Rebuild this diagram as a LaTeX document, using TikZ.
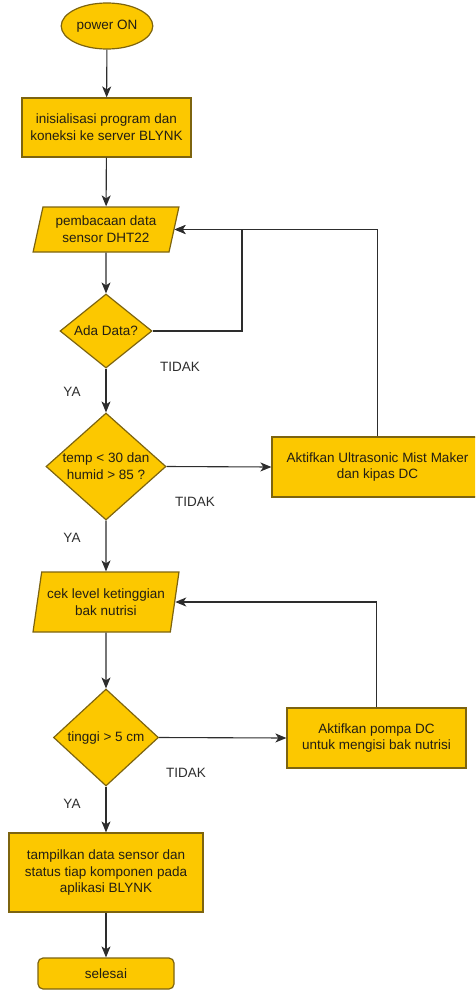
\documentclass[tikz,border=0pt]{standalone}
\usepackage{fontspec}
\setmainfont{Liberation Sans}
\usetikzlibrary{shapes.geometric,arrows.meta}
\definecolor{boxfill}{RGB}{252,200,0}
\definecolor{boxline}{RGB}{125,100,15}
\definecolor{conline}{RGB}{45,45,45}
\definecolor{txt}{RGB}{35,30,20}
\tikzset{
  every node/.style={font=\fontsize{13.5}{16.7}\selectfont, text=txt},
  shp/.style={draw=boxline, fill=boxfill, line width=1.2pt, inner sep=2pt, align=center},
  procbox/.style={shp, rectangle},
  termbox/.style={shp, rectangle, rounded corners=5pt},
  startell/.style={shp, ellipse},
  iobox/.style={shp, trapezium, trapezium left angle=75, trapezium right angle=105, trapezium stretches=true},
  decbox/.style={shp, diamond, inner sep=0pt},
  inlbl/.style={align=center, inner sep=0pt},
  edgelbl/.style={text=conline, inner sep=0pt},
  arr/.style={draw=conline, line width=1.1pt, -{Stealth[length=11pt,width=9pt,inset=3pt]}}
}
\begin{document}
\begin{tikzpicture}[x=1pt,y=-1pt]
\useasboundingbox (0,0) rectangle (475,990);
\clip (0,0) rectangle (475,990);
\node[startell, minimum width=90pt, minimum height=46pt] (pwr) at (107,26) {power ON};
\node[procbox, minimum width=169pt, minimum height=59pt] (init) at (106.5,127.5) {inisialisasi program dan\\koneksi ke server BLYNK};
\node[iobox, minimum width=146pt, minimum height=45pt] (par1) at (106,229.5) {pembacaan data\\sensor DHT22};
\node[decbox, minimum width=92pt, minimum height=74pt, label={[inlbl]center:Ada Data?}] (d1) at (106,331) {};
\node[decbox, minimum width=120pt, minimum height=107pt, label={[inlbl]center:temp < 30 dan\\humid > 85 ?}] (d2) at (106,466.5) {};
\node[procbox, minimum width=211pt, minimum height=60pt] (act1) at (377.5,467) {Aktifkan Ultrasonic Mist Maker\\dan kipas DC};
\node[iobox, minimum width=146pt, minimum height=60pt] (par2) at (106,602) {cek level ketinggian\\bak nutrisi};
\node[decbox, minimum width=105pt, minimum height=97pt, label={[inlbl]center:tinggi > 5 cm}] (d3) at (106,737.5) {};
\node[procbox, minimum width=179pt, minimum height=60pt] (act2) at (376.5,738) {Aktifkan pompa DC\\untuk mengisi bak nutrisi};
\node[procbox, minimum width=194pt, minimum height=79pt] (tamp) at (106,872.5) {tampilkan data sensor dan\\status tiap komponen pada\\aplikasi BLYNK};
\node[termbox, minimum width=136pt, minimum height=31pt] (sel) at (106,973.5) {selesai};

\coordinate (j1) at (242,331);
\draw[arr] (pwr) -- (init);
\draw[arr] (init) -- (par1);
\draw[arr] (par1) -- (d1);
\draw[arr] (d1.east) -- (j1) |- (par1.east);
\draw[arr] (act1.north) |- (par1.east);
\draw[arr] (d1.south) -- (d2.north);
\draw[arr] (d2.east) -- (act1.west);
\draw[arr] (d2.south) -- (par2.north);
\draw[arr] (par2.south) -- (d3.north);
\draw[arr] (d3.east) -- (act2.west);
\draw[arr] (act2.north) |- (par2.east);
\draw[arr] (d3.south) -- (tamp.north);
\draw[arr] (tamp.south) -- (sel.north);

\node[edgelbl] (t1) at (180,367) {TIDAK};
\node[edgelbl] (y1) at (72,392) {YA};
\node[edgelbl] (t2) at (195,502) {TIDAK};
\node[edgelbl] (y2) at (72,538) {YA};
\node[edgelbl] (t3) at (186,773) {TIDAK};
\node[edgelbl] (y3) at (72,804) {YA};
\end{tikzpicture}
\end{document}
